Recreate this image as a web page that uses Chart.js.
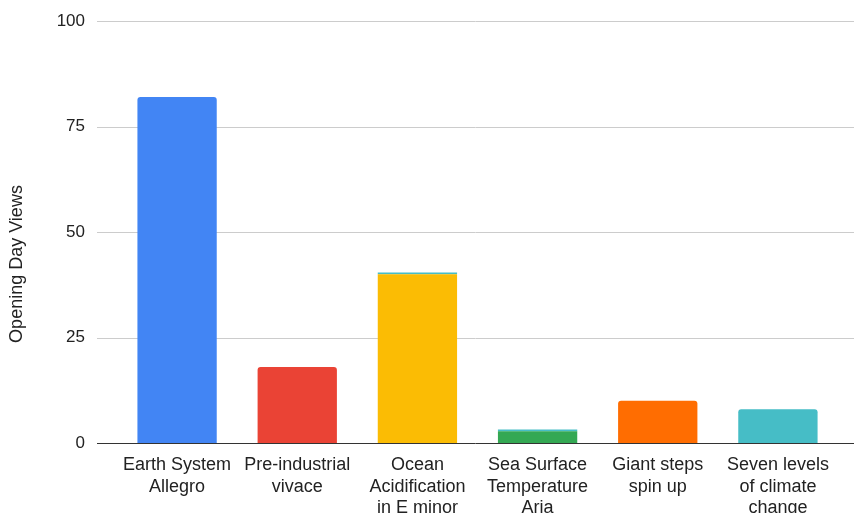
<!DOCTYPE html>
<html>
<head>
<meta charset="utf-8">
<script src="https://cdn.jsdelivr.net/npm/chart.js@4"></script>
<style>
  html, body { margin: 0; padding: 0; background: #fff; }
  #wrap { width: 854px; height: 513px; position: relative; }
</style>
</head>
<body>
<div id="wrap"><canvas id="viewsChart"></canvas></div>
<script>
// Data
const categories = [
  ["Earth System", "Allegro"],
  ["Pre-industrial", "vivace"],
  ["Ocean", "Acidification", "in E minor"],
  ["Sea Surface", "Temperature", "Aria"],
  ["Giant steps", "spin up"],
  ["Seven levels", "of climate", "change"],
];
const views = [82, 18, 40, 2.8, 10, 8];
const extraViews = [null, null, 0.4, 0.4, null, null];
const yTicks = [0, 25, 50, 75, 100];
const yTitle = "Opening Day Views";

const barColors = ["#4285F4", "#EA4335", "#FBBC04", "#34A853", "#FF6D01", "#46BDC6"];
const fontFamily = "Arial, 'Liberation Sans', sans-serif";

// Gridlines that run past the category band, like the original
const wideGridPlugin = {
  id: "wideGrid",
  beforeDatasetsDraw: function (chart) {
    const ctx = chart.ctx;
    const y = chart.scales.y;
    const left = chart.chartArea.left - 20;
    const right = chart.chartArea.right + 16;
    ctx.save();
    yTicks.forEach(function (v) {
      const py = Math.round(y.getPixelForValue(v)) + 0.5;
      ctx.beginPath();
      ctx.moveTo(left, py);
      ctx.lineTo(right, py);
      ctx.lineWidth = 1;
      ctx.strokeStyle = v === 0 ? "#333333" : "#cccccc";
      ctx.stroke();
    });
    ctx.restore();
  },
};

// Y axis title, placed a bit lower than the plot centre
const yTitlePlugin = {
  id: "yTitle",
  afterDraw: function (chart) {
    const ctx = chart.ctx;
    ctx.save();
    ctx.translate(17, 264);
    ctx.rotate(-Math.PI / 2);
    ctx.textAlign = "center";
    ctx.textBaseline = "middle";
    ctx.fillStyle = "#222222";
    ctx.font = "18px " + fontFamily;
    ctx.fillText(yTitle, 0, 0);
    ctx.restore();
  },
};

const ctx = document.getElementById("viewsChart").getContext("2d");
const viewsChart = new Chart(ctx, {
  type: "bar",
  data: {
    labels: categories,
    datasets: [
      {
        label: yTitle,
        data: views,
        backgroundColor: barColors,
        borderWidth: 0,
        borderRadius: 3,
        barPercentage: 0.66,
        categoryPercentage: 1,
      },
      {
        label: "Extra",
        data: extraViews,
        backgroundColor: "#46BDC6",
        borderWidth: 0,
        borderRadius: 0,
        barPercentage: 0.66,
        categoryPercentage: 1,
      },
    ],
  },
  options: {
    responsive: true,
    maintainAspectRatio: false,
    animation: false,
    layout: {
      padding: { top: 0, right: 16, left: 0, bottom: 0 },
    },
    plugins: {
      legend: { display: false },
      tooltip: { enabled: false },
    },
    scales: {
      x: {
        stacked: true,
        grid: { display: false, drawTicks: false },
        border: { display: false },
        ticks: {
          color: "#222222",
          padding: 12,
          maxRotation: 0,
          autoSkip: false,
          font: { size: 18, family: fontFamily, lineHeight: 1.17 },
        },
        afterFit: function (scale) {
          scale.height = 70;
          scale.paddingLeft = 0;
          scale.paddingRight = 0;
        },
      },
      y: {
        stacked: true,
        min: 0,
        max: 100,
        afterBuildTicks: function (scale) {
          scale.ticks = yTicks.map(function (v) { return { value: v }; });
        },
        grid: { display: false, drawTicks: false },
        border: { display: false },
        ticks: {
          color: "#222222",
          padding: 32,
          font: { size: 17, family: fontFamily },
        },
        afterFit: function (scale) {
          scale.width = 117;
          scale.paddingTop = 21;
          scale.paddingBottom = 0;
        },
      },
    },
  },
  plugins: [wideGridPlugin, yTitlePlugin],
});
</script>
</body>
</html>
